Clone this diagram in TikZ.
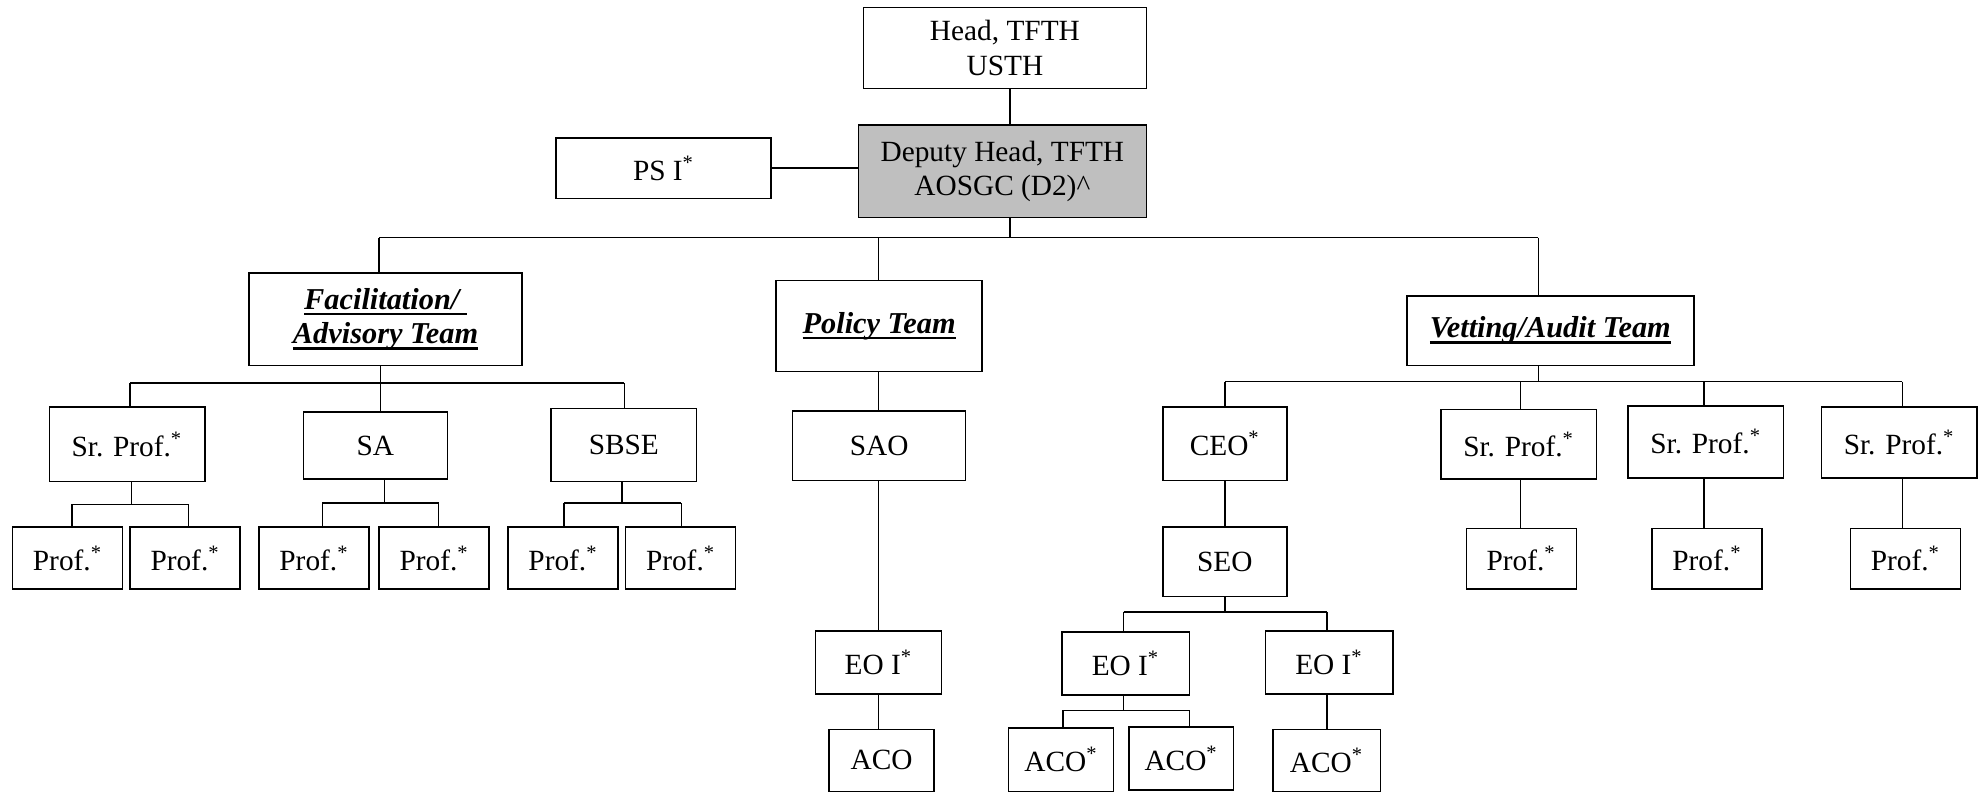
\documentclass[tikz,border=0pt]{standalone}
\usepackage{fontspec}
\setmainfont{Liberation Serif}
\newcommand\supast{\textsuperscript{*}}
\newcommand\teamul[1]{\setbox0\hbox{#1}\leavevmode\rlap{\rule[-2.4pt]{\wd0}{1pt}}\box0}
\newcommand\team[1]{{\fontsize{12}{13.5}\selectfont\textbf{\textit{\teamul{#1}}}}}
\begin{document}
\begin{tikzpicture}[x=0.5pt,y=-0.5pt,line width=0.6pt,
  font=\fontsize{11.6}{13.5}\selectfont,
  box/.style={draw,inner sep=0pt,align=center,fill=white},
  sz/.style 2 args={minimum width=#1*0.5pt,minimum height=#2*0.5pt}]
\useasboundingbox (0,0) rectangle (1568,626);
% top
\node[box,sz={224}{64}] (head) at (795,38) {Head, TFTH\\USTH};
\node[box,sz={228}{73},fill=black!25] (deputy) at (793,135.5) {Deputy Head, TFTH\\AOSGC (D2)\^{}};
\node[box,sz={170}{48}] (psi) at (525,133) {PS I\supast};
% teams
\node[box,sz={216}{73}] (fac) at (305,252.5) {\team{Facilitation/\ }\\\team{Advisory Team}};
\node[box,sz={163}{72}] (policy) at (695.5,258) {\team{Policy Team}};
\node[box,sz={227}{55}] (vet) at (1226.5,261.5) {\team{Vetting/Audit Team}};
% facilitation branch
\node[box,sz={123}{59}] (fsp) at (100.5,351.5) {Sr. Prof.\supast};
\node[box,sz={114}{53}] (sa) at (297,352.5) {SA};
\node[box,sz={115}{58}] (sbse) at (493.5,352) {SBSE};
\node[box,sz={87}{49}] (p1) at (53.5,441.5) {Prof.\supast};
\node[box,sz={87}{49}] (p2) at (146.5,441.5) {Prof.\supast};
\node[box,sz={87}{49}] (p3) at (248.5,441.5) {Prof.\supast};
\node[box,sz={87}{49}] (p4) at (343.5,441.5) {Prof.\supast};
\node[box,sz={87}{49}] (p5) at (445.5,441.5) {Prof.\supast};
\node[box,sz={87}{49}] (p6) at (538.5,441.5) {Prof.\supast};
% policy branch
\node[box,sz={137}{55}] (sao) at (695.5,352.5) {SAO};
\node[box,sz={100}{50}] (eo1) at (695,524) {EO I\supast};
\node[box,sz={83}{49}] (aco1) at (697.5,601.5) {ACO};
% vetting branch
\node[box,sz={98}{58}] (ceo) at (969,351) {CEO\supast};
\node[box,sz={98}{55}] (seo) at (969,444.5) {SEO};
\node[box,sz={101}{50}] (eo2) at (890.5,525) {EO I\supast};
\node[box,sz={101}{50}] (eo3) at (1051.5,524) {EO I\supast};
\node[box,sz={83}{50}] (aco2) at (839.5,601) {ACO\supast};
\node[box,sz={83}{50}] (aco3) at (934.5,600) {ACO\supast};
\node[box,sz={85}{49}] (aco4) at (1049.5,601.5) {ACO\supast};
\node[box,sz={123}{55}] (vs1) at (1201.5,351.5) {Sr. Prof.\supast};
\node[box,sz={123}{57}] (vs2) at (1349.5,349.5) {Sr. Prof.\supast};
\node[box,sz={123}{56}] (vs3) at (1502.5,350) {Sr. Prof.\supast};
\node[box,sz={87}{48}] (vp1) at (1203.5,442) {Prof.\supast};
\node[box,sz={87}{48}] (vp2) at (1350.5,442) {Prof.\supast};
\node[box,sz={87}{48}] (vp3) at (1507.5,442) {Prof.\supast};
% junction coordinates
\coordinate (j0) at (799,188);
\coordinate (jf) at (300,188);
\coordinate (jp) at (695,188);
\coordinate (jv) at (1217,188);
\coordinate (fa) at (103,303);
\coordinate (fb) at (301,303);
\coordinate (fc) at (494,303);
\coordinate (k1a) at (57,399);
\coordinate (k1m) at (104,399);
\coordinate (k1b) at (149,399);
\coordinate (k2a) at (255,398);
\coordinate (k2m) at (304,398);
\coordinate (k2b) at (347,398);
\coordinate (k3a) at (446,398);
\coordinate (k3m) at (492,398);
\coordinate (k3b) at (539,398);
\coordinate (v0) at (1217,302);
\coordinate (va) at (969,302);
\coordinate (vb) at (1203,302);
\coordinate (vc) at (1348,302);
\coordinate (vd) at (1505,302);
\coordinate (q0) at (969,484);
\coordinate (q1) at (889,484);
\coordinate (q2) at (1050,484);
\coordinate (r0) at (889,562);
\coordinate (r1) at (841,562);
\coordinate (r2) at (941,562);
% connectors
\draw (head.south -| j0) -- (deputy.north -| j0);
\draw (psi.east) -- (psi.east -| deputy.west);
\draw (deputy.south -| j0) -- (j0);
\draw (jf) -- (jv);
\draw (jf) -- (jf |- fac.north);
\draw (jp) -- (jp |- policy.north);
\draw (jv) -- (jv |- vet.north);
% facilitation
\draw (fac.south -| fb) -- (fb |- sa.north);
\draw (fa) -- (fc);
\draw (fa) -- (fa |- fsp.north);
\draw (fc) -- (fc |- sbse.north);
\draw (fsp.south -| k1m) -- (k1m);
\draw (k1a) -- (k1b);
\draw (k1a) -- (k1a |- p1.north);
\draw (k1b) -- (k1b |- p2.north);
\draw (sa.south -| k2m) -- (k2m);
\draw (k2a) -- (k2b);
\draw (k2a) -- (k2a |- p3.north);
\draw (k2b) -- (k2b |- p4.north);
\draw (sbse.south -| k3m) -- (k3m);
\draw (k3a) -- (k3b);
\draw (k3a) -- (k3a |- p5.north);
\draw (k3b) -- (k3b |- p6.north);
% policy
\draw (policy.south -| jp) -- (jp |- sao.north);
\draw (sao.south -| jp) -- (jp |- eo1.north);
\draw (eo1.south -| jp) -- (jp |- aco1.north);
% vetting
\draw (vet.south -| v0) -- (v0);
\draw (va) -- (vd);
\draw (va) -- (va |- ceo.north);
\draw (vb) -- (vb |- vs1.north);
\draw (vc) -- (vc |- vs2.north);
\draw (vd) -- (vd |- vs3.north);
\draw (vs1.south -| vb) -- (vb |- vp1.north);
\draw (vs2.south -| vc) -- (vc |- vp2.north);
\draw (vs3.south -| vd) -- (vd |- vp3.north);
\draw (ceo.south -| va) -- (va |- seo.north);
\draw (seo.south -| q0) -- (q0);
\draw (q1) -- (q2);
\draw (q1) -- (q1 |- eo2.north);
\draw (q2) -- (q2 |- eo3.north);
\draw (eo2.south -| r0) -- (r0);
\draw (r1) -- (r2);
\draw (r1) -- (r1 |- aco2.north);
\draw (r2) -- (r2 |- aco3.north);
\draw (eo3.south -| q2) -- (q2 |- aco4.north);
\end{tikzpicture}
\end{document}
